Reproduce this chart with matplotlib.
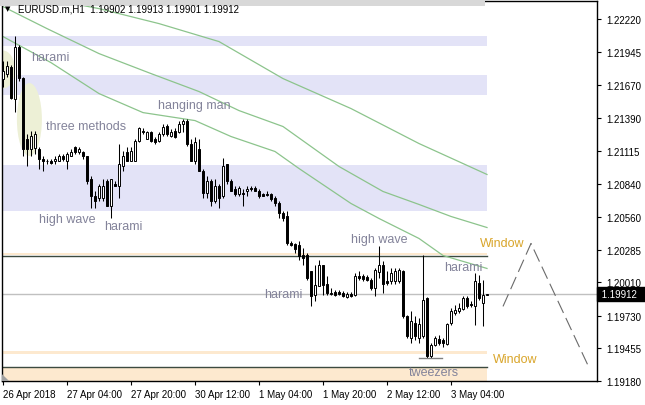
import matplotlib
matplotlib.use("Agg")
import matplotlib.pyplot as plt
import matplotlib.transforms as mtransforms
from matplotlib.patches import Ellipse, Rectangle, Polygon
import numpy as np

plt.rcParams["font.family"] = ["Liberation Sans", "DejaVu Sans"]

# EURUSD H1 свечи (open, high, low, close)
opens = [1.21722, 1.21764, 1.21823, 1.21554, 1.21991, 1.21730, 1.21218, 1.21134, 1.21142, 1.21134,
         1.21050, 1.21033, 1.21033, 1.21025, 1.21033, 1.21075, 1.21033, 1.21075, 1.21151, 1.21109,
         1.21109, 1.21067, 1.20882, 1.20739, 1.20714, 1.20714, 1.20865, 1.20655, 1.20840, 1.20823,
         1.20991, 1.21109, 1.21033, 1.21033, 1.21201, 1.21285, 1.21218, 1.21277, 1.21218, 1.21201,
         1.21260, 1.21327, 1.21243, 1.21285, 1.21277, 1.21336, 1.21369, 1.21176, 1.21033, 1.21134,
         1.20949, 1.20756, 1.20865, 1.20697, 1.20815, 1.20731, 1.21000, 1.20857, 1.20798, 1.20748,
         1.20756, 1.20773, 1.20806, 1.20806, 1.20781, 1.20748, 1.20748, 1.20748, 1.20714, 1.20680,
         1.20596, 1.20563, 1.20336, 1.20328, 1.20319, 1.20235, 1.20235, 1.20101, 1.19899, 1.19975,
         1.20151, 1.19992, 1.19916, 1.19924, 1.19924, 1.19916, 1.19882, 1.19908, 1.19899, 1.20059,
         1.20059, 1.20050, 1.20026, 1.19958, 1.20092, 1.20151, 1.20017, 1.20017, 1.20017, 1.20017,
         1.20101, 1.19723, 1.19538, 1.19664, 1.19538, 1.19555, 1.19874, 1.19387, 1.19479, 1.19530,
         1.19521, 1.19488, 1.19664, 1.19748, 1.19765, 1.19782, 1.19874, 1.19824, 1.19807, 1.20000,
         1.19832, 1.19902]
highs = [1.21873, 1.21873, 1.21840, 1.22083, 1.22008, 1.21739, 1.21260, 1.21285, 1.21285, 1.21151,
         1.21067, 1.21050, 1.21050, 1.21067, 1.21092, 1.21092, 1.21109, 1.21134, 1.21159, 1.21151,
         1.21117, 1.21075, 1.20899, 1.20773, 1.20840, 1.20882, 1.20882, 1.20882, 1.20857, 1.21176,
         1.21117, 1.21151, 1.21151, 1.21218, 1.21319, 1.21310, 1.21285, 1.21285, 1.21235, 1.21277,
         1.21336, 1.21344, 1.21294, 1.21310, 1.21369, 1.21386, 1.21386, 1.21218, 1.21235, 1.21218,
         1.20958, 1.20899, 1.20882, 1.20882, 1.20840, 1.21058, 1.21008, 1.20882, 1.20823, 1.20823,
         1.20798, 1.20815, 1.20823, 1.20823, 1.20798, 1.20756, 1.20773, 1.20756, 1.20731, 1.20689,
         1.20613, 1.20605, 1.20353, 1.20336, 1.20353, 1.20294, 1.20252, 1.20101, 1.20151, 1.20193,
         1.20151, 1.20059, 1.19958, 1.19941, 1.19941, 1.19933, 1.19924, 1.19924, 1.20084, 1.20101,
         1.20076, 1.20068, 1.20042, 1.20126, 1.20311, 1.20185, 1.20101, 1.20126, 1.20126, 1.20126,
         1.20109, 1.19731, 1.19765, 1.19723, 1.19706, 1.20235, 1.19882, 1.19496, 1.19555, 1.19563,
         1.19538, 1.19664, 1.19790, 1.19815, 1.19832, 1.19891, 1.19891, 1.19849, 1.20084, 1.20068,
         1.20026, 1.19913]
lows = [1.21655, 1.21739, 1.21554, 1.21445, 1.21705, 1.21067, 1.20983, 1.21075, 1.21092, 1.20966,
        1.20949, 1.21008, 1.21008, 1.21008, 1.21025, 1.21033, 1.20966, 1.21067, 1.21092, 1.21092,
        1.21050, 1.20840, 1.20630, 1.20630, 1.20697, 1.20697, 1.20647, 1.20546, 1.20815, 1.20714,
        1.20949, 1.21025, 1.21025, 1.21025, 1.21193, 1.21260, 1.21210, 1.21193, 1.21176, 1.21193,
        1.21243, 1.21243, 1.21235, 1.21226, 1.21268, 1.21277, 1.21159, 1.21025, 1.21008, 1.20941,
        1.20714, 1.20714, 1.20655, 1.20672, 1.20630, 1.20714, 1.20840, 1.20773, 1.20731, 1.20739,
        1.20655, 1.20739, 1.20773, 1.20773, 1.20714, 1.20731, 1.20731, 1.20697, 1.20655, 1.20546,
        1.20529, 1.20319, 1.20311, 1.20252, 1.20193, 1.20151, 1.20026, 1.19807, 1.19849, 1.19975,
        1.19899, 1.19899, 1.19899, 1.19891, 1.19899, 1.19882, 1.19874, 1.19882, 1.19891, 1.20026,
        1.20017, 1.20017, 1.19941, 1.19891, 1.20042, 1.19916, 1.19983, 1.19992, 1.19992, 1.20000,
        1.19706, 1.19538, 1.19496, 1.19521, 1.19496, 1.19538, 1.19370, 1.19370, 1.19471, 1.19479,
        1.19462, 1.19479, 1.19647, 1.19731, 1.19748, 1.19774, 1.19790, 1.19798, 1.19647, 1.19857,
        1.19639, 1.19901]
closes = [1.21789, 1.21831, 1.21562, 1.21991, 1.21730, 1.21134, 1.21134, 1.21243, 1.21252, 1.21050,
          1.21033, 1.21025, 1.21016, 1.21050, 1.21075, 1.21050, 1.21092, 1.21109, 1.21109, 1.21134,
          1.21067, 1.20857, 1.20739, 1.20697, 1.20815, 1.20823, 1.20655, 1.20874, 1.20823, 1.21000,
          1.21075, 1.21033, 1.21117, 1.21201, 1.21310, 1.21277, 1.21277, 1.21201, 1.21193, 1.21260,
          1.21319, 1.21260, 1.21277, 1.21235, 1.21344, 1.21369, 1.21176, 1.21033, 1.21193, 1.20949,
          1.20756, 1.20865, 1.20697, 1.20815, 1.20714, 1.20991, 1.20857, 1.20781, 1.20748, 1.20806,
          1.20752, 1.20798, 1.20790, 1.20781, 1.20731, 1.20739, 1.20745, 1.20706, 1.20672, 1.20596,
          1.20554, 1.20336, 1.20319, 1.20286, 1.20227, 1.20218, 1.20042, 1.19891, 1.19983, 1.20151,
          1.19983, 1.19916, 1.19912, 1.19899, 1.19908, 1.19891, 1.19908, 1.19891, 1.20059, 1.20042,
          1.20034, 1.20026, 1.19958, 1.20109, 1.20151, 1.19992, 1.20000, 1.20084, 1.20101, 1.20109,
          1.19723, 1.19555, 1.19681, 1.19555, 1.19656, 1.19857, 1.19387, 1.19479, 1.19538, 1.19496,
          1.19496, 1.19656, 1.19765, 1.19774, 1.19790, 1.19874, 1.19807, 1.19815, 1.20017, 1.19874,
          1.19899, 1.19912]

# скользящие средние (опорные точки: номер бара, цена)
ma_slow_bars = [10, 24, 39, 54, 70, 87, 104, 121]
ma_slow = [1.22400, 1.22310, 1.22184, 1.22033, 1.21722, 1.21470, 1.21176, 1.20916]
ma_mid_bars = [0, 11, 24, 37, 49, 59, 70, 84, 95, 104, 112, 121]
ma_mid = [1.22327, 1.22142, 1.21932, 1.21764, 1.21613, 1.21453, 1.21319, 1.20983,
          1.20773, 1.20664, 1.20563, 1.20470]
ma_fast_bars = [0, 12, 24, 35, 48, 57, 68, 74, 87, 94, 104, 110, 121]
ma_fast = [1.22075, 1.21856, 1.21596, 1.21436, 1.21369, 1.21235, 1.21109, 1.20966,
           1.20672, 1.20546, 1.20378, 1.20235, 1.20126]

# зоны и уровни
blue_zones = [(1.21993, 1.22081), (1.21582, 1.21756), (1.20608, 1.20994)]
window_top = 1.20230
window_bottom = 1.19300
last_price = 1.19912

# прогноз (пунктир)
forecast_bars = [125, 132, 146.25]
forecast_prices = [1.19807, 1.20336, 1.19311]

yticks = [1.19180, 1.19455, 1.19730, 1.20010, 1.20285, 1.20560, 1.20840,
          1.21115, 1.21390, 1.21670, 1.21945, 1.22220]
xtick_bars = [0, 16, 32, 48, 64, 80, 96, 112]
xtick_labels = ["26 Apr 2018", "27 Apr 04:00", "27 Apr 20:00", "30 Apr 12:00",
                "1 May 04:00", "1 May 20:00", "2 May 12:00", "3 May 04:00"]

fig = plt.figure(figsize=(6.45, 4.06), dpi=100)
ax = fig.add_axes([2 / 645, 24 / 406, 595 / 645, 380 / 406])
ax.set_xlim(-0.25, 148.5)
ax.set_ylim(1.19180, 1.22374)

n = len(opens)
x = np.arange(n)
last_bar = n - 1

# фон: зоны
for lo, hi in blue_zones:
    ax.fill_between([-0.25, last_bar], lo, hi, color="#e3e3f7", lw=0, zorder=0)
ax.fill_between([-0.25, last_bar], window_top + 0.00008, window_top + 0.00028, color="#fde9cf", lw=0, zorder=0)
ax.plot([-0.25, last_bar], [window_top, window_top], color="#3c4a40", lw=1, zorder=1)
ax.fill_between([-0.25, last_bar], 1.19406, 1.19431, color="#fde9cf", lw=0, zorder=0)
ax.fill_between([-0.25, last_bar], 1.19180, 1.19290, color="#fde9cf", lw=0, zorder=0)
ax.plot([-0.25, last_bar], [window_bottom, window_bottom], color="#3c4a40", lw=1, zorder=1)

# эллипсы
ax.add_patch(Ellipse((0.0, 1.21798), 6.0, 0.00319, color="#edf0d6", lw=0, zorder=1))
ax.add_patch(Ellipse((6.6, 1.21378), 6.25, 0.00613, color="#edf0d6", lw=0, zorder=1))

# текущая цена
ax.axhline(last_price, color="#c0c0c0", lw=1, zorder=1)

# MA
ax.plot(ma_slow_bars, ma_slow, color="#8cc48c", lw=0.9, zorder=2)
ax.plot(ma_mid_bars, ma_mid, color="#8cc48c", lw=0.9, zorder=2)
ax.plot(ma_fast_bars, ma_fast, color="#8cc48c", lw=0.9, zorder=2)

# свечи
o = np.array(opens)
c = np.array(closes)
ax.vlines(x, lows, highs, color="black", lw=0.75, zorder=3)
face = ["white" if cc > oo else "black" for oo, cc in zip(o, c)]
ax.bar(x, np.abs(c - o), bottom=np.minimum(o, c), width=0.5, color=face,
       edgecolor="black", linewidth=0.7, zorder=4)

# tweezers
ax.plot([104, 109.75], [1.19370, 1.19370], color="#808080", lw=1, zorder=3)

# прогноз
ln, = ax.plot(forecast_bars, forecast_prices, color="#6a6a6a", lw=0.8, zorder=3)
ln.set_dashes([12, 5])

# подписи паттернов
gray = "#83839a"
for txt, bx, py in [("harami", 7, 1.21907), ("three methods", 10.75, 1.21327),
                    ("hanging man", 38.75, 1.21504), ("high wave", 9, 1.20538),
                    ("harami", 25.25, 1.20479), ("high wave", 87, 1.20374),
                    ("harami", 65.25, 1.19908), ("harami", 110.25, 1.20139),
                    ("tweezers", 101.5, 1.19252)]:
    ax.text(bx, py, txt, color=gray, fontsize=9, ha="left", va="center", zorder=5)
for bx, py in [(119.25, 1.20336), (122.5, 1.19362)]:
    ax.text(bx, py, "Window", color="#d9a52a", fontsize=9, ha="left", va="center", zorder=5)

# заголовок
fig.patches.append(Rectangle((0, 1 - 7 / 406), 485 / 645, 7 / 406,
                             transform=fig.transFigure, color="#d8d8d8", lw=0, zorder=0))
fig.text(5 / 645, 1 - 9 / 406, "\u25bc", fontsize=5, va="center", ha="left", family="DejaVu Sans")
fig.text(18 / 645, 1 - 9 / 406, "EURUSD.m,H1  1.19902 1.19913 1.19901 1.19912",
         fontsize=7, va="center", ha="left", color="black")

# оси
ax.yaxis.tick_right()
ax.set_yticks(yticks)
ax.set_yticklabels([f"{v:.5f}" for v in yticks])
ax.set_xticks(xtick_bars)
ax.set_xticklabels(xtick_labels, ha="left")
ax.tick_params(axis="both", length=3, width=0.8, labelsize=7, color="black")
ax.tick_params(axis="y", pad=4)
ax.tick_params(axis="x", pad=3)
for s in ax.spines.values():
    s.set_linewidth(1)

trans = mtransforms.blended_transform_factory(ax.transAxes, ax.transData)
ax.text(1.004, last_price, " 1.19912  ", transform=trans, color="white", fontsize=7,
        va="center", ha="left", zorder=6,
        bbox=dict(facecolor="black", edgecolor="black", pad=1.5))

# маркер сдвига графика
ax.add_patch(Polygon([[0, 0], [0.012, 0], [0, 0.018]], closed=True, transform=ax.transAxes,
                     color="#a0a0a0", lw=0, zorder=5))

fig.savefig("out.png", dpi=100)
